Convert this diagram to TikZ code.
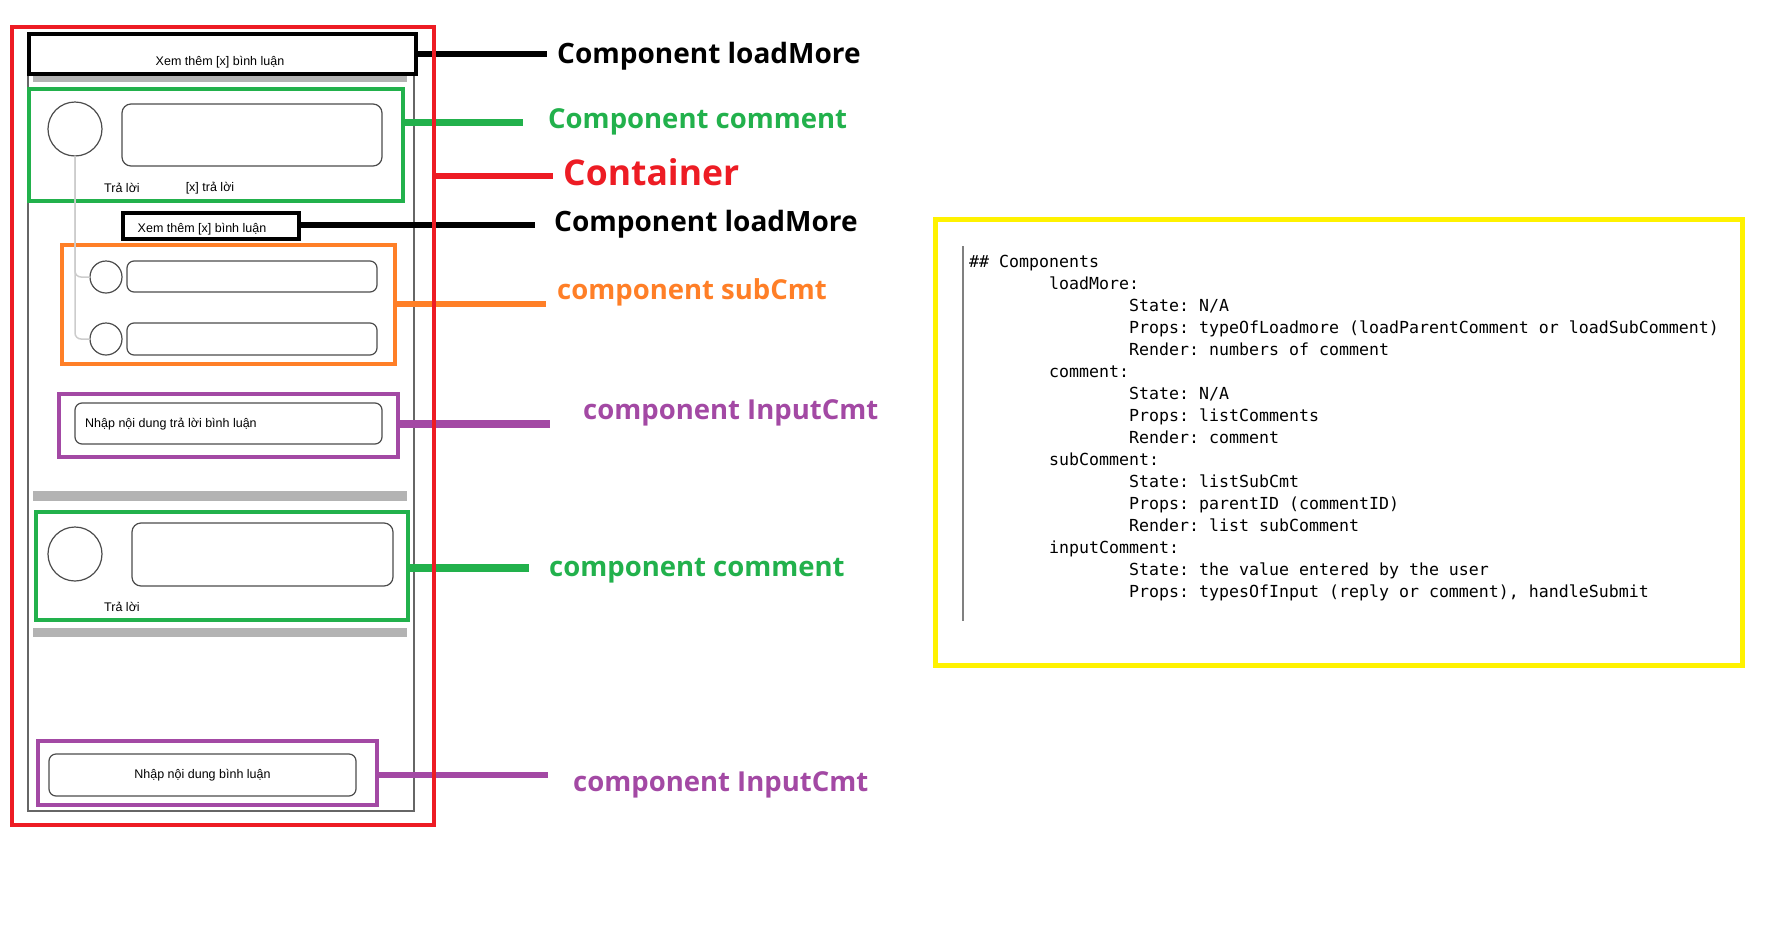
\documentclass[tikz,border=0pt]{standalone}
\usepackage{fontspec}
\setmainfont{Liberation Sans}
\newfontfamily\lblfont{Open Sans}
\newfontfamily\monofont{DejaVu Sans Mono}
\definecolor{ctrRed}{HTML}{ED1C24}
\definecolor{cmtGreen}{HTML}{22B14C}
\definecolor{subOrange}{HTML}{FF7F27}
\definecolor{inPurple}{HTML}{A349A4}
\definecolor{noteYellow}{HTML}{FFF200}
\definecolor{barGray}{HTML}{B3B3B3}
\definecolor{threadGray}{HTML}{CCCCCC}
\definecolor{frameGray}{HTML}{666666}

\begin{document}
\begin{tikzpicture}[x=1pt,y=-1pt,
    box/.style={draw,line width=4pt,inner sep=0pt,outer sep=0pt},
    mock/.style={draw=black!70,line width=1.2pt,inner sep=0pt,outer sep=0pt},
    bubble/.style={mock,rounded corners=9pt},
    avatar/.style={mock,circle},
    thread/.style={draw=threadGray,line width=1.5pt,rounded corners=6pt},
    ptr/.style={line width=5.5pt},
    mocktext/.style={font=\fontsize{12.5}{14}\selectfont,inner sep=0pt},
    lbl/.style={font=\lblfont\bfseries\fontsize{27.5}{31}\selectfont,inner sep=0pt,anchor=west},
    mono/.style={font=\monofont\fontsize{16.6}{20}\selectfont\frenchspacing,inner sep=0pt,anchor=base west}]
    \useasboundingbox (0,0) rectangle (1770,948);

    \node[draw=frameGray,line width=1.5pt,inner sep=0pt,minimum width=386pt,minimum height=777pt] (phone) at (221,422.5) {};
    \fill[barGray] (33,76) rectangle (407,82);
    \fill[barGray] (33,491) rectangle (407,501);
    \fill[barGray] (33,628) rectangle (407,637);

    \node[box,fill=white,minimum width=387pt,minimum height=40pt] (lm1) at (222.5,54) {};
    \node[mocktext] (lm1txt) at (220,62) {Xem thêm [x] bình luận};

    \node[box,draw=cmtGreen,minimum width=374pt,minimum height=112pt] (cm1) at (216,145) {};
    \node[avatar,minimum size=54pt] (av1) at (75,129) {};
    \node[bubble,minimum width=260pt,minimum height=62pt] (bub1) at (252,135) {};
    \node[mocktext] (rep1) at (122,188) {Trả lời};
    \node[mocktext] (nrep1) at (210,188) {[x] trả lời};

    \node[box,minimum width=176pt,minimum height=26pt] (lm2) at (211,226) {};
    \node[mocktext] (lm2txt) at (202,229) {Xem thêm [x] bình luận};

    \node[box,draw=subOrange,minimum width=333pt,minimum height=119pt] (sc) at (228.5,304.5) {};
    \node[avatar,minimum size=32pt] (sav1) at (106,277) {};
    \node[bubble,rounded corners=7pt,minimum width=250pt,minimum height=31pt] (sbub1) at (252,276.5) {};
    \node[avatar,minimum size=32pt] (sav2) at (106,339) {};
    \node[bubble,rounded corners=7pt,minimum width=250pt,minimum height=32pt] (sbub2) at (252,339) {};
    \draw[thread] (av1.south) |- (sav1.west);
    \draw[thread] (av1.south) |- (sav2.west);

    \node[box,draw=inPurple,minimum width=339pt,minimum height=63pt] (in1) at (228.5,425.5) {};
    \node[bubble,rounded corners=7pt,minimum width=307pt,minimum height=41pt] (fld1) at (228.5,423.5) {};
    \node[mocktext,anchor=west] (fld1txt) at (85,424) {Nhập nội dung trả lời bình luận};

    \node[box,draw=cmtGreen,minimum width=372pt,minimum height=108pt] (cm2) at (222,566) {};
    \node[avatar,minimum size=54pt] (av2) at (75,554) {};
    \node[bubble,minimum width=261pt,minimum height=63pt] (bub2) at (262.5,554.5) {};
    \node[mocktext] (rep2) at (122,607) {Trả lời};

    \node[box,draw=inPurple,minimum width=339pt,minimum height=64pt] (in2) at (207.5,773) {};
    \node[bubble,mocktext,rounded corners=7pt,minimum width=307pt,minimum height=42pt] (fld2) at (202.5,775) {Nhập nội dung bình luận};

    \coordinate (lm1end) at (547,54);
    \coordinate (cm1end) at (523,122);
    \coordinate (ctrend) at (553,176);
    \coordinate (lm2end) at (535,225);
    \coordinate (scend) at (546,304);
    \coordinate (in1end) at (550,424);
    \coordinate (cm2end) at (529,568);
    \coordinate (in2end) at (548,775);
    \path[ptr] (lm1.east) edge (lm1end);
    \path[ptr,draw=cmtGreen,line width=7pt] (cm1.east |- cm1end) edge (cm1end);
    \path[ptr,draw=ctrRed,line width=6pt] (434,176) edge (ctrend);
    \path[ptr] (lm2.east |- lm2end) edge (lm2end);
    \path[ptr,draw=subOrange] (sc.east |- scend) edge (scend);
    \path[ptr,draw=inPurple,line width=8pt] (in1.east |- in1end) edge (in1end);
    \path[ptr,draw=cmtGreen,line width=7.5pt] (cm2.east |- cm2end) edge (cm2end);
    \path[ptr,draw=inPurple] (in2.east |- in2end) edge (in2end);

    \node[box,draw=ctrRed,minimum width=422pt,minimum height=798pt] (ctr) at (223,426) {};

    \node[lbl,font=\lblfont\bfseries\fontsize{28}{31}\selectfont] (lbLm1) at (557,56) {Component loadMore};
    \node[lbl,text=cmtGreen] (lbCm1) at (548,122) {Component comment};
    \node[lbl,text=ctrRed,font=\lblfont\bfseries\fontsize{35.5}{40}\selectfont] (lbCtr) at (563,172.5) {Container};
    \node[lbl,font=\lblfont\bfseries\fontsize{28}{31}\selectfont] (lbLm2) at (554,224) {Component loadMore};
    \node[lbl,text=subOrange] (lbSc) at (557,292.5) {component subCmt};
    \node[lbl,text=inPurple] (lbIn1) at (583,413) {component InputCmt};
    \node[lbl,text=cmtGreen] (lbCm2) at (549,570.5) {component comment};
    \node[lbl,text=inPurple] (lbIn2) at (573,784.5) {component InputCmt};

    \node[draw=noteYellow,line width=5pt,inner sep=0pt,minimum width=807pt,minimum height=446pt] (notes) at (1338.5,442) {};
    \draw[black!50,line width=1.5pt] (963,246) -- (963,621);
    \foreach \lvl/\txt [count=\i from 0] in {0/{\#\# Components}, 1/{loadMore:},
        2/{State: N/A}, 2/{Props: typeOfLoadmore (loadParentComment or loadSubComment)},
        2/{Render: numbers of comment}, 1/{comment:}, 2/{State: N/A},
        2/{Props: listComments}, 2/{Render: comment}, 1/{subComment:},
        2/{State: listSubCmt}, 2/{Props: parentID (commentID)}, 2/{Render: list subComment},
        1/{inputComment:}, 2/{State: the value entered by the user},
        2/{Props: typesOfInput (reply or comment), handleSubmit}}
      \node[mono] (ln\i) at (969+80*\lvl,267+22*\i) {\txt};
\end{tikzpicture}
\end{document}
